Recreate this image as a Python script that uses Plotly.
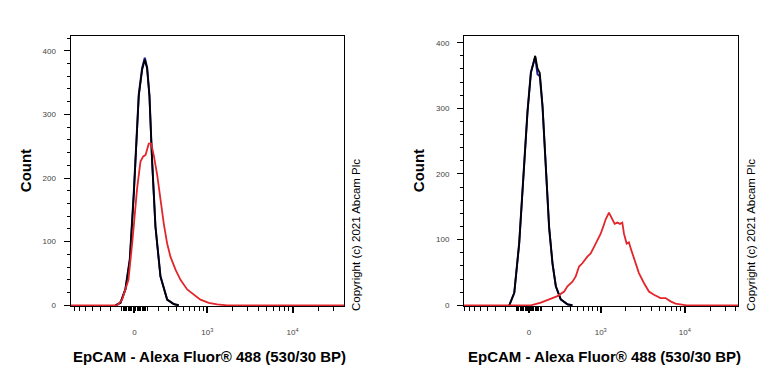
import numpy as np
import plotly.graph_objects as go

# ---------------- data (x in biexponential display units, y = count) ----------------
left_ctrl_x = [-0.221, -0.163, -0.105, -0.054, -0.008, 0.031, 0.050, 0.089, 0.120, 0.147,
               0.174, 0.205, 0.244, 0.302, 0.380, 0.457, 0.515]
left_black_y = [0, 4, 25, 71, 174, 278, 329, 370, 386, 372, 329, 226, 123, 45, 9, 2, 0]
left_blue_y = [0, 4, 26, 73, 177, 281, 332, 373, 389, 374, 330, 228, 124, 46, 9, 2, 0]

left_red_x = [-0.744, -0.201, -0.143, -0.070, -0.027, 0.031, 0.070, 0.101, 0.128, 0.166, 0.194,
              0.224, 0.264, 0.302, 0.341, 0.380, 0.419, 0.477, 0.535, 0.613, 0.690,
              0.767, 0.864, 0.962, 1.078, 2.44]
left_red_y = [0, 0, 9, 40, 97, 184, 226, 234, 236, 254, 254, 236, 205, 164, 128, 97, 76,
              56, 40, 25, 17, 9, 4, 1.5, 0, 0]

right_ctrl_x = [-0.231, -0.172, -0.114, -0.055, -0.016, 0.024, 0.055, 0.075, 0.102, 0.129,
                0.161, 0.200, 0.239, 0.279, 0.318, 0.376, 0.455, 0.514]
right_black_y = [0, 19, 94, 209, 294, 354, 369, 380, 361, 354, 304, 209, 119, 64, 29, 9, 1.5, 0]
right_blue_y = [0, 19, 95, 211, 296, 355, 368, 378, 352, 349, 302, 208, 118, 63, 29, 9, 1.5, 0]

right_red_x = [-0.765, 0.024, 0.141, 0.259, 0.337, 0.416, 0.455, 0.514, 0.553, 0.592, 0.631,
               0.690, 0.729, 0.769, 0.808, 0.847, 0.875, 0.906, 0.945, 0.973, 1.012,
               1.043, 1.075, 1.102, 1.122, 1.153, 1.180, 1.208, 1.247, 1.298, 1.357,
               1.416, 1.475, 1.553, 1.612, 1.671, 1.729, 1.808, 1.860, 2.47]
right_red_y = [0, 0, 4, 10, 14, 21, 29, 36, 44, 59, 64, 74, 79, 89, 99, 109, 119, 131, 141,
               134, 124, 126, 124, 126, 109, 94, 96, 84, 69, 49, 34, 21, 16, 11, 11, 6,
               2.5, 0.5, 0, 0]

x_major_values = [0, 1000, 10000]
x_major_text = ["0", "10<sup>3</sup>", "10<sup>4</sup>"]
y_major = [0, 100, 200, 300, 400]
x_title = "EpCAM - Alexa Fluor® 488 (530/30 BP)"
y_title = "Count"
copyright_text = "Copyright (c) 2021 Abcam Plc"


def biex(v):
    return np.arcsinh(np.asarray(v, dtype=float) / 290.0) / np.log(10)


minor_vals = (list(range(-900, -100, 100)) + list(range(-100, 101, 10)) +
              list(range(200, 1000, 100)) + list(range(2000, 10000, 1000)) +
              list(range(20000, 100000, 10000)))
x_minor = [float(v) for v in biex(minor_vals)]
x_major = [float(v) for v in biex(x_major_values)]

FONT = "Liberation Sans, Arial, sans-serif"
BLUE = "#1c1c8f"
RED = "#e3262b"

fig = go.Figure()


def add_panel(xa, ya, cx, blue, black, rx, ry):
    fig.add_trace(go.Scatter(x=cx, y=blue, mode="lines", line=dict(color=BLUE, width=2),
                             xaxis=xa, yaxis=ya, showlegend=False, hoverinfo="skip"))
    fig.add_trace(go.Scatter(x=cx, y=black, mode="lines", line=dict(color="black", width=1.8),
                             xaxis=xa, yaxis=ya, showlegend=False, hoverinfo="skip"))
    fig.add_trace(go.Scatter(x=rx, y=ry, mode="lines", line=dict(color=RED, width=1.8),
                             xaxis=xa, yaxis=ya, showlegend=False, hoverinfo="skip"))


add_panel("x", "y", left_ctrl_x, left_blue_y, left_black_y, left_red_x, left_red_y)
add_panel("x2", "y2", right_ctrl_x, right_blue_y, right_black_y, right_red_x, right_red_y)

W, H = 768, 384


def xaxis_cfg(domain, rng, anchor):
    return dict(domain=domain, range=rng, anchor=anchor, showgrid=False, zeroline=False,
                showline=True, linecolor="black", linewidth=1, mirror=True,
                tickmode="array", tickvals=x_major, ticktext=x_major_text,
                ticks="outside", ticklen=6, tickwidth=1.5, tickcolor="black",
                ticklabelstandoff=12,
                tickfont=dict(family=FONT, size=8, color="#444"),
                minor=dict(tickmode="array", tickvals=x_minor, ticks="outside",
                           ticklen=4, tickwidth=1.2, tickcolor="black", showgrid=False))


def yaxis_cfg(domain, rng, anchor):
    return dict(domain=domain, range=rng, anchor=anchor, showgrid=False, zeroline=False,
                showline=True, linecolor="black", linewidth=1, mirror=True,
                tickmode="array", tickvals=y_major,
                ticks="outside", ticklen=6, tickwidth=1, tickcolor="black",
                ticklabelstandoff=6,
                tickfont=dict(family=FONT, size=8, color="#444"),
                minor=dict(dtick=20, ticks="outside", ticklen=3, tickwidth=1,
                           tickcolor="black", showgrid=False))


ydom = [1 - 309.5 / H, 1 - 36.5 / H]
fig.update_layout(
    width=W, height=H, margin=dict(l=0, r=0, t=0, b=0),
    paper_bgcolor="white", plot_bgcolor="white",
    xaxis=xaxis_cfg([70.5 / W, 344.3 / W], [-0.744, 2.44], "y"),
    yaxis=yaxis_cfg(ydom, [-1.5, 423], "x"),
    xaxis2=xaxis_cfg([464 / W, 738.3 / W], [-0.765, 2.47], "y2"),
    yaxis2=yaxis_cfg(ydom, [-1.5, 410], "x2"),
)

annots = []
for cx in (209, 604):
    annots.append(dict(x=cx / W, y=1 - 360 / H, xref="paper", yref="paper",
                       text="<b>" + x_title + "</b>",
                       showarrow=False, font=dict(family=FONT, size=15, color="black"),
                       xanchor="center", yanchor="middle"))
for cx in (25, 418):
    annots.append(dict(x=cx / W, y=1 - 173 / H, xref="paper", yref="paper",
                       text="<b>" + y_title + "</b>", textangle=-90, showarrow=False,
                       font=dict(family=FONT, size=15, color="black"),
                       xanchor="center", yanchor="middle"))
for cx in (356, 751):
    annots.append(dict(x=cx / W, y=1 - 237.5 / H, xref="paper", yref="paper",
                       text=copyright_text, textangle=-90, showarrow=False,
                       font=dict(family=FONT, size=11.5, color="black"),
                       xanchor="center", yanchor="middle"))
fig.update_layout(annotations=annots)

fig.write_html("out.html", config={"displayModeBar": False},
               post_script="document.body.style.margin='0';document.documentElement.style.overflow='hidden';")
